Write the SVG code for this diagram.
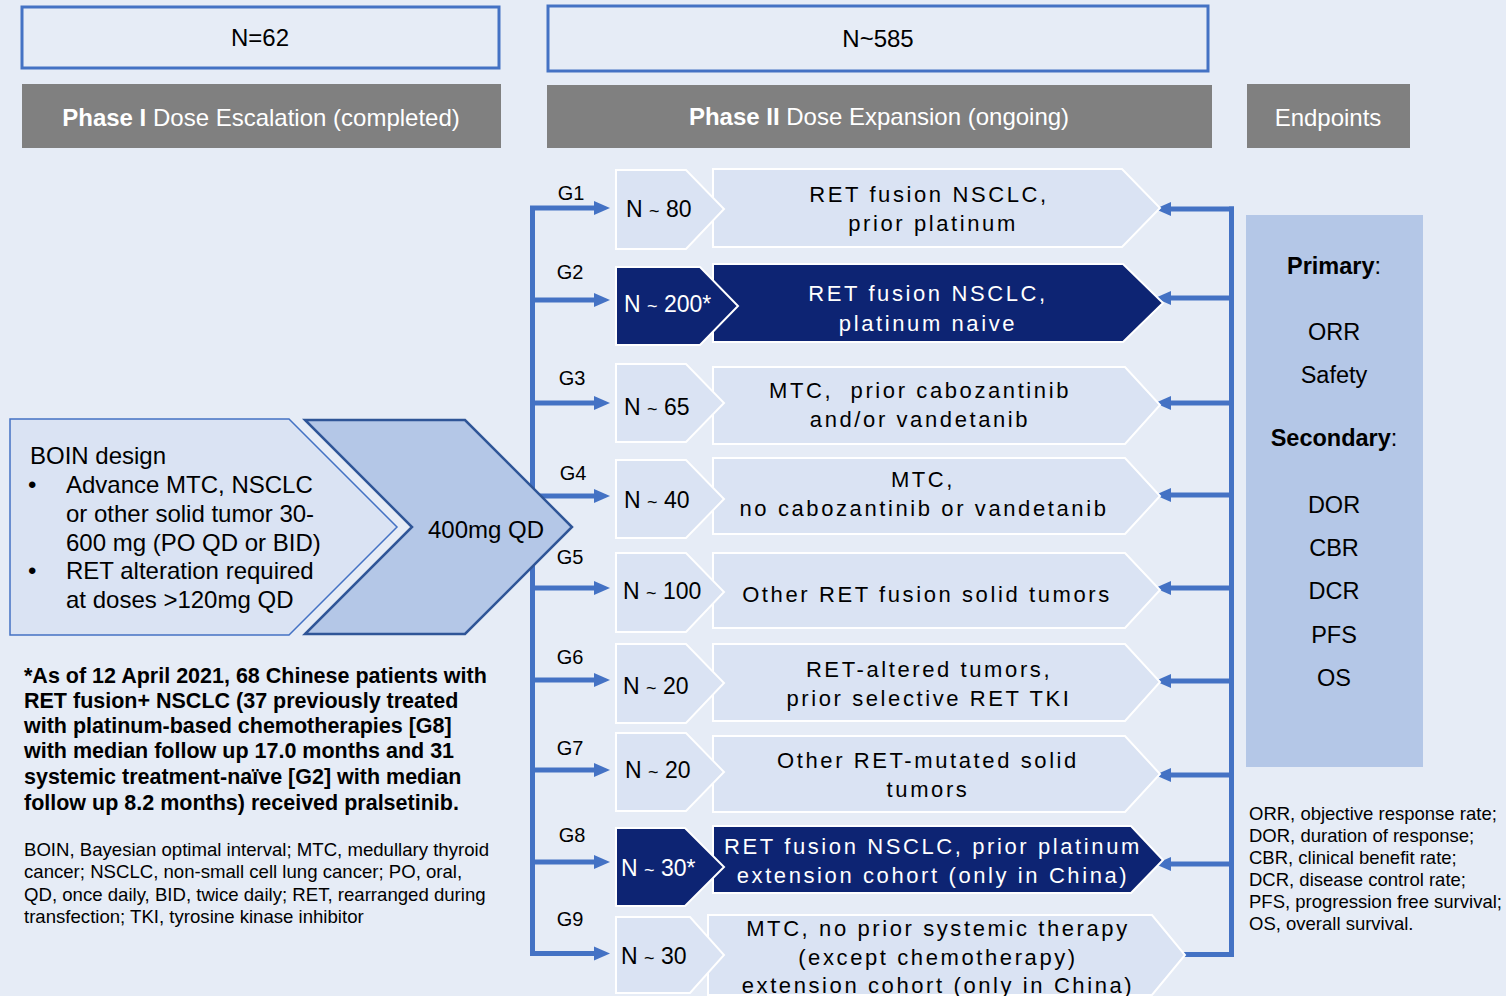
<svg xmlns="http://www.w3.org/2000/svg" width="1506" height="996" viewBox="0 0 1506 996">
<defs>
<style>
text{font-family:"Liberation Sans",Arial,sans-serif;fill:#000}
.hdr{fill:#808080}
.nbox{fill:#E6ECF6;stroke:#4472C4;stroke-width:3}
.lt{fill:#DAE3F3;stroke:#FFFFFF;stroke-width:2}
.dk{fill:#0D2473;stroke:#FFFFFF;stroke-width:2}
.ht{font-size:24px;fill:#FFFFFF;text-anchor:middle}
.c24{font-size:24px;text-anchor:middle}
.ep{font-size:23.5px;text-anchor:middle}
.g{font-size:20px;text-anchor:middle}
.n{font-size:23px}
.tl{font-size:18px}
.d{font-size:22px;text-anchor:middle;letter-spacing:2.6px}
.w{fill:#FFFFFF}
.ln{fill:none;stroke:#4472C4;stroke-width:5}
.fb{font-size:21.5px;font-weight:bold}
.fa{font-size:18.6px}
.fl{font-size:18.5px}
.bt{font-size:24px}
</style>
<marker id="ah" viewBox="0 0 16 16" refX="8" refY="8" markerWidth="16" markerHeight="16" markerUnits="userSpaceOnUse" orient="auto">
<path d="M0,1 L16,8 L0,15 z" fill="#4472C4"/>
</marker>
</defs>
<rect x="0" y="0" width="1506" height="996" fill="#E6ECF6"/>

<g id="hdr-n62"><rect class="nbox" x="22" y="7" width="477" height="61"/><text class="c24" x="260" y="46">N=62</text></g>
<g id="hdr-n585"><rect class="nbox" x="548" y="6" width="660" height="65"/><text class="c24" x="878" y="47">N~585</text></g>
<g id="hdr-phase1"><rect class="hdr" x="22" y="84" width="479" height="64"/><text class="ht" x="261" y="126"><tspan font-weight="bold">Phase I</tspan> Dose Escalation (completed)</text></g>
<g id="hdr-phase2"><rect class="hdr" x="547" y="85" width="665" height="63"/><text class="ht" x="879" y="125"><tspan font-weight="bold">Phase II</tspan> Dose Expansion (ongoing)</text></g>
<g id="hdr-endpoints"><rect class="hdr" x="1247" y="84" width="163" height="64"/><text class="ht" x="1328" y="126">Endpoints</text></g>

<g id="connectors">
<path class="ln" d="M532.5,206 V956"/>
<path class="ln" marker-end="url(#ah)" d="M530,208 H602"/>
<path class="ln" marker-end="url(#ah)" d="M530,300 H602"/>
<path class="ln" marker-end="url(#ah)" d="M530,403 H602"/>
<path class="ln" marker-end="url(#ah)" d="M530,496 H602"/>
<path class="ln" marker-end="url(#ah)" d="M530,588 H602"/>
<path class="ln" marker-end="url(#ah)" d="M530,680 H602"/>
<path class="ln" marker-end="url(#ah)" d="M530,770 H602"/>
<path class="ln" marker-end="url(#ah)" d="M530,862 H602"/>
<path class="ln" marker-end="url(#ah)" d="M530,953.5 H602"/>
<path class="ln" d="M1231.5,206.5 V957"/>
<path class="ln" marker-end="url(#ah)" d="M1234,209 H1163"/>
<path class="ln" marker-end="url(#ah)" d="M1234,298 H1163"/>
<path class="ln" marker-end="url(#ah)" d="M1234,403 H1163"/>
<path class="ln" marker-end="url(#ah)" d="M1234,495 H1163"/>
<path class="ln" marker-end="url(#ah)" d="M1234,588 H1163"/>
<path class="ln" marker-end="url(#ah)" d="M1234,681 H1163"/>
<path class="ln" marker-end="url(#ah)" d="M1234,775 H1163"/>
<path class="ln" marker-end="url(#ah)" d="M1234,864 H1163"/>
<path class="ln" marker-end="url(#ah)" d="M1234,954.5 H1163"/>
</g>

<g id="boin">
<polygon points="10,419 289,419 397,527 289,635 10,635" fill="#DAE3F3" stroke="#4472C4" stroke-width="1.5"/>
<text class="bt" x="30" y="464">BOIN design</text>
<text class="bt" x="28" y="493">•</text><text class="bt" x="66" y="493">Advance MTC, NSCLC</text>
<text class="bt" x="66" y="522">or other solid tumor 30-</text>
<text class="bt" x="66" y="551">600 mg (PO QD or BID)</text>
<text class="bt" x="28" y="579">•</text><text class="bt" x="66" y="579">RET alteration required</text>
<text class="bt" x="66" y="608">at doses &gt;120mg QD</text>
</g>
<g id="dose">
<polygon points="305,420 465,420 572,527 465,634 305,634 412,527" fill="#B4C7E7" stroke="#2F5597" stroke-width="2.5"/>
<text class="bt" x="486" y="538" text-anchor="middle">400mg QD</text>
</g>

<g id="glabels">
<text class="g" x="571" y="200">G1</text>
<text class="g" x="570" y="279">G2</text>
<text class="g" x="572" y="385">G3</text>
<text class="g" x="573" y="480">G4</text>
<text class="g" x="570" y="564">G5</text>
<text class="g" x="570" y="664">G6</text>
<text class="g" x="570" y="755">G7</text>
<text class="g" x="572" y="842">G8</text>
<text class="g" x="570" y="926">G9</text>
</g>

<g id="g1">
<polygon class="lt" points="713,169 1122,169 1160,208 1122,247 713,247"/>
<polygon class="lt" points="616,170 686,170 724,209 686,249 616,249"/>
<text class="n" x="626" y="217">N <tspan class="tl">~</tspan> 80</text>
<text class="d" x="929" y="202">RET fusion NSCLC,</text>
<text class="d" x="933" y="231">prior platinum</text>
</g>
<g id="g2">
<polygon class="dk" points="713,264 1123,264 1163,303 1123,342 713,342"/>
<polygon class="dk" points="616,267 700,267 738,306 700,345 616,345"/>
<text class="n w" x="624" y="312">N <tspan class="tl w">~</tspan> 200*</text>
<text class="d w" x="928" y="301">RET fusion NSCLC,</text>
<text class="d w" x="928" y="331">platinum naive</text>
</g>
<g id="g3">
<polygon class="lt" points="713,367 1125,367 1160,405 1125,444 713,444"/>
<polygon class="lt" points="616,364 686,364 724,403 686,442 616,442"/>
<text class="n" x="624" y="415">N <tspan class="tl">~</tspan> 65</text>
<text class="d" x="920" y="398" xml:space="preserve">MTC,  prior cabozantinib</text>
<text class="d" x="920" y="427">and/or vandetanib</text>
</g>
<g id="g4">
<polygon class="lt" points="713,458 1125,458 1160,496 1125,534 713,534"/>
<polygon class="lt" points="616,460 686,460 724,499 686,538 616,538"/>
<text class="n" x="624" y="508">N <tspan class="tl">~</tspan> 40</text>
<text class="d" x="923" y="487">MTC,</text>
<text class="d" x="924" y="516">no cabozantinib or vandetanib</text>
</g>
<g id="g5">
<polygon class="lt" points="713,553 1125,553 1160,590 1125,628 713,628"/>
<polygon class="lt" points="616,553 686,553 724,592 686,632 616,632"/>
<text class="n" x="623" y="599">N <tspan class="tl">~</tspan> 100</text>
<text class="d" x="927" y="602">Other RET fusion solid tumors</text>
</g>
<g id="g6">
<polygon class="lt" points="713,644 1125,644 1160,682 1125,721 713,721"/>
<polygon class="lt" points="616,644 686,644 724,683 686,723 616,723"/>
<text class="n" x="623" y="694">N <tspan class="tl">~</tspan> 20</text>
<text class="d" x="929" y="677">RET-altered tumors,</text>
<text class="d" x="929" y="706">prior selective RET TKI</text>
</g>
<g id="g7">
<polygon class="lt" points="713,736 1125,736 1160,774 1125,812 713,812"/>
<polygon class="lt" points="616,733 686,733 724,772 686,811 616,811"/>
<text class="n" x="625" y="778">N <tspan class="tl">~</tspan> 20</text>
<text class="d" x="928" y="768">Other RET-mutated solid</text>
<text class="d" x="928" y="797">tumors</text>
</g>
<g id="g8">
<polygon class="dk" points="713,826 1131,826 1163,860 1131,893 713,893"/>
<polygon class="dk" points="616,828 685,828 724,867 685,906 616,906"/>
<text class="n w" x="621" y="876">N <tspan class="tl w">~</tspan> 30*</text>
<text class="d w" x="933" y="854">RET fusion NSCLC, prior platinum</text>
<text class="d w" x="933" y="883">extension cohort (only in China)</text>
</g>
<g id="g9">
<polygon class="lt" points="708,915 1152,915 1185,955 1152,995 708,995"/>
<polygon class="lt" points="616,917 690,917 724,955 690,993 616,993"/>
<text class="n" x="621" y="964">N <tspan class="tl">~</tspan> 30</text>
<text class="d" x="938" y="936">MTC, no prior systemic therapy</text>
<text class="d" x="938" y="965">(except chemotherapy)</text>
<text class="d" x="938" y="993">extension cohort (only in China)</text>
</g>

<g id="endpoints">
<rect x="1246" y="215" width="177" height="552" fill="#B4C7E7"/>
<text class="ep" x="1334" y="274"><tspan font-weight="bold">Primary</tspan>:</text>
<text class="ep" x="1334" y="340">ORR</text>
<text class="ep" x="1334" y="383">Safety</text>
<text class="ep" x="1334" y="446"><tspan font-weight="bold">Secondary</tspan>:</text>
<text class="ep" x="1334" y="513">DOR</text>
<text class="ep" x="1334" y="556">CBR</text>
<text class="ep" x="1334" y="599">DCR</text>
<text class="ep" x="1334" y="643">PFS</text>
<text class="ep" x="1334" y="686">OS</text>
</g>

<g id="legend">
<text class="fl" x="1249" y="820">ORR, objective response rate;</text>
<text class="fl" x="1249" y="842">DOR, duration of response;</text>
<text class="fl" x="1249" y="864">CBR, clinical benefit rate;</text>
<text class="fl" x="1249" y="886">DCR, disease control rate;</text>
<text class="fl" x="1249" y="908">PFS, progression free survival;</text>
<text class="fl" x="1249" y="930">OS, overall survival.</text>
</g>

<g id="footnote">
<text class="fb" x="24" y="683">*As of 12 April 2021, 68 Chinese patients with</text>
<text class="fb" x="24" y="708">RET fusion+ NSCLC (37 previously treated</text>
<text class="fb" x="24" y="733">with platinum-based chemotherapies [G8]</text>
<text class="fb" x="24" y="758">with median follow up 17.0 months and 31</text>
<text class="fb" x="24" y="784">systemic treatment-naïve [G2] with median</text>
<text class="fb" x="24" y="810">follow up 8.2 months) received pralsetinib.</text>
</g>
<g id="abbrev">
<text class="fa" x="24" y="856">BOIN, Bayesian optimal interval; MTC, medullary thyroid</text>
<text class="fa" x="24" y="878">cancer; NSCLC, non-small cell lung cancer; PO, oral,</text>
<text class="fa" x="24" y="901">QD, once daily, BID, twice daily; RET, rearranged during</text>
<text class="fa" x="24" y="923">transfection; TKI, tyrosine kinase inhibitor</text>
</g>
</svg>
